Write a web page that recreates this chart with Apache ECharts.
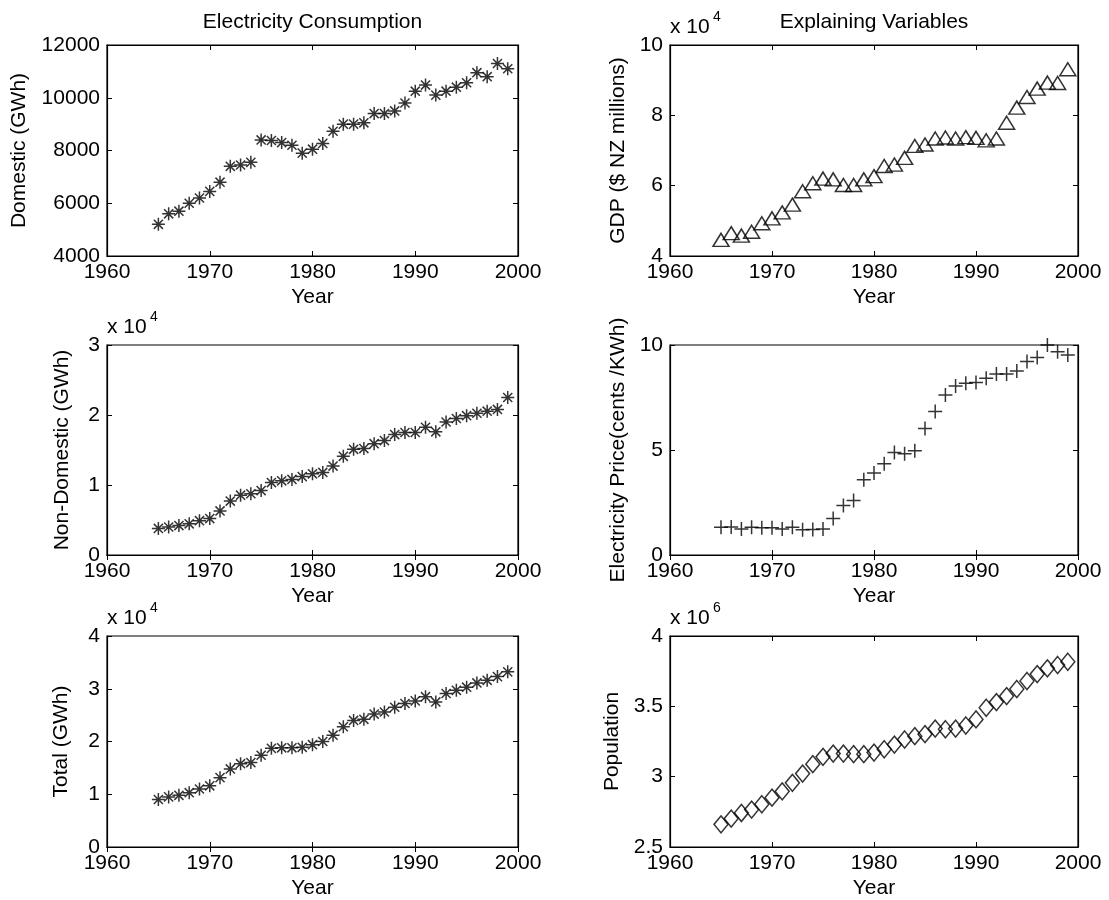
<!DOCTYPE html>
<html>
<head>
<meta charset="utf-8">
<script src="https://cdn.jsdelivr.net/npm/echarts@6/dist/echarts.min.js"></script>
<style>html,body{margin:0;padding:0;background:#fff;}#chart{width:1109px;height:900px;}</style>
</head>
<body>
<div id="chart"></div>
<script>
var years = [1965,1966,1967,1968,1969,1970,1971,1972,1973,1974,1975,1976,1977,1978,1979,1980,1981,1982,1983,1984,1985,1986,1987,1988,1989,1990,1991,1992,1993,1994,1995,1996,1997,1998,1999];
var domestic = [5200,5600,5700,6000,6200,6450,6800,7400,7450,7550,8400,8380,8300,8200,7900,8050,8270,8730,9000,9000,9050,9400,9400,9500,9800,10250,10480,10100,10250,10400,10570,10950,10800,11300,11100];
var nonDomestic = [3800,4000,4200,4450,4900,5200,6300,7700,8550,8750,9200,10350,10600,10800,11200,11600,11800,12700,14100,15100,15200,15900,16350,17200,17500,17500,18250,17600,19000,19500,19900,20250,20550,20800,22500];
var total = [9000,9500,9800,10300,11000,11600,13150,14800,15800,16000,17400,18700,18800,18800,18900,19400,20000,21200,22800,24000,24200,25200,25600,26500,27200,27700,28500,27500,29100,29700,30300,31100,31600,32300,33200];
var gdp = [44600,46500,45800,46900,49300,50700,52400,54600,58400,60700,62000,61800,60200,60200,61800,62700,65600,66000,67900,71300,71700,73400,73700,73400,73800,73600,72900,73400,77900,82200,85200,87600,89300,89200,93100];
var price = [1.32,1.33,1.24,1.32,1.30,1.30,1.24,1.32,1.20,1.22,1.24,1.74,2.36,2.60,3.58,3.90,4.34,4.88,4.82,4.96,6.02,6.83,7.62,8.05,8.18,8.22,8.42,8.62,8.62,8.76,9.21,9.41,10.0,9.68,9.52];
var population = [2661000,2702000,2742000,2766000,2804000,2851000,2896000,2956000,3022000,3089000,3141000,3164000,3164000,3160000,3160000,3171000,3195000,3228000,3264000,3288000,3302000,3342000,3337000,3342000,3364000,3407000,3490000,3530000,3573000,3623000,3680000,3729000,3770000,3794000,3817000];

var colTitles = ['Electricity Consumption', 'Explaining Variables'];
var xTicks = {min: 1960, max: 2000, interval: 10};

var FONT = '"Liberation Sans", Arial, Helvetica, sans-serif';
var FS = 21;
var ASTER = 'path://M0,5L10,5M5,0L5,10M1.5,1.5L8.5,8.5M1.5,8.5L8.5,1.5';
var PLUS = 'path://M0,5L10,5M5,0L5,10';

var panels = [
  {data: domestic, name: 'Domestic (GWh)', min: 4000, max: 12000, interval: 2000, scale: 1, exp: null, gap: 77, sym: ASTER, size: 13, grid: {left: 107, top: 45, width: 411, height: 211}},
  {data: gdp, name: 'GDP ($ NZ millions)', min: 40000, max: 100000, interval: 20000, scale: 1e4, exp: '4', gap: 41, sym: 'triangle', size: [16, 13], grid: {left: 670, top: 45, width: 408, height: 211}},
  {data: nonDomestic, name: 'Non-Domestic (GWh)', min: 0, max: 30000, interval: 10000, scale: 1e4, exp: '4', gap: 34, sym: ASTER, size: 13, grid: {left: 107, top: 345, width: 411, height: 210}},
  {data: price, name: 'Electricity Price(cents /KWh)', min: 0, max: 10, interval: 5, scale: 1, exp: null, gap: 41, sym: PLUS, size: 14, grid: {left: 670, top: 345, width: 408, height: 210}},
  {data: total, name: 'Total (GWh)', min: 0, max: 40000, interval: 10000, scale: 1e4, exp: '4', gap: 35, sym: ASTER, size: 13, grid: {left: 107, top: 636, width: 411, height: 211}},
  {data: population, name: 'Population', min: 2500000, max: 4000000, interval: 500000, scale: 1e6, exp: '6', gap: 47, sym: 'diamond', size: [14, 17], grid: {left: 670, top: 636, width: 408, height: 211}}
];

var grids = [], xAxes = [], yAxes = [], series = [], graphics = [];
var axisLineStyle = {show: true, lineStyle: {color: '#000', width: 1.2}};
var tick = {show: true, inside: true, length: 5, lineStyle: {color: '#000', width: 1}};

panels.forEach(function (p, i) {
  grids.push(Object.assign({show: true, borderColor: '#000', borderWidth: 1.2, backgroundColor: 'transparent', containLabel: false}, p.grid));
  var xb = xAxes.length;
  xAxes.push({type: 'value', gridIndex: i, position: 'bottom', min: xTicks.min, max: xTicks.max, interval: xTicks.interval,
    axisLine: axisLineStyle, axisTick: tick, splitLine: {show: false},
    axisLabel: {color: '#000', fontSize: FS, fontFamily: FONT, margin: 6, formatter: function (v) { return String(v); }},
    name: 'Year', nameLocation: 'middle', nameGap: 31, nameTextStyle: {color: '#000', fontSize: FS, fontFamily: FONT}});
  xAxes.push({type: 'value', gridIndex: i, position: 'top', min: xTicks.min, max: xTicks.max, interval: xTicks.interval,
    axisLine: axisLineStyle, axisTick: tick, splitLine: {show: false}, axisLabel: {show: false}});
  var yl = yAxes.length;
  (function () {
    var sc = p.scale;
    yAxes.push({type: 'value', gridIndex: i, position: 'left', min: p.min, max: p.max, interval: p.interval,
      axisLine: axisLineStyle, axisTick: tick, splitLine: {show: false},
      axisLabel: {color: '#000', fontSize: FS, fontFamily: FONT, margin: 7, formatter: function (v) { return String(+(v / sc).toFixed(6)); }},
      name: p.name, nameLocation: 'middle', nameGap: p.gap, nameTextStyle: {color: '#000', fontSize: FS, fontFamily: FONT}});
  })();
  yAxes.push({type: 'value', gridIndex: i, position: 'right', min: p.min, max: p.max, interval: p.interval,
    axisLine: axisLineStyle, axisTick: tick, splitLine: {show: false}, axisLabel: {show: false}});
  series.push({
    type: 'scatter', xAxisIndex: xb, yAxisIndex: yl, clip: false, silent: true,
    symbol: p.sym, symbolSize: p.size,
    itemStyle: {color: 'rgba(0,0,0,0)', borderColor: '#000', borderWidth: 1.5},
    data: years.map(function (y, k) { return [y, p.data[k]]; })
  });
  if (p.exp) {
    graphics.push({type: 'text', left: p.grid.left, top: p.grid.top - 28,
      style: {text: 'x 10', font: FS + 'px ' + FONT, fill: '#000'}});
    graphics.push({type: 'text', left: p.grid.left + 43, top: p.grid.top - 35,
      style: {text: p.exp, font: '14px ' + FONT, fill: '#000'}});
  }
});

colTitles.forEach(function (t, c) {
  var g = panels[c].grid;
  graphics.push({type: 'text', x: g.left + g.width / 2, y: 22,
    style: {text: t, font: FS + 'px ' + FONT, fill: '#000', textAlign: 'center', textVerticalAlign: 'middle'}});
});

var chart = echarts.init(document.getElementById('chart'), null, {renderer: 'canvas'});
chart.setOption({
  backgroundColor: '#fff',
  animation: false,
  grid: grids,
  xAxis: xAxes,
  yAxis: yAxes,
  series: series,
  graphic: graphics
});
</script>
</body>
</html>
